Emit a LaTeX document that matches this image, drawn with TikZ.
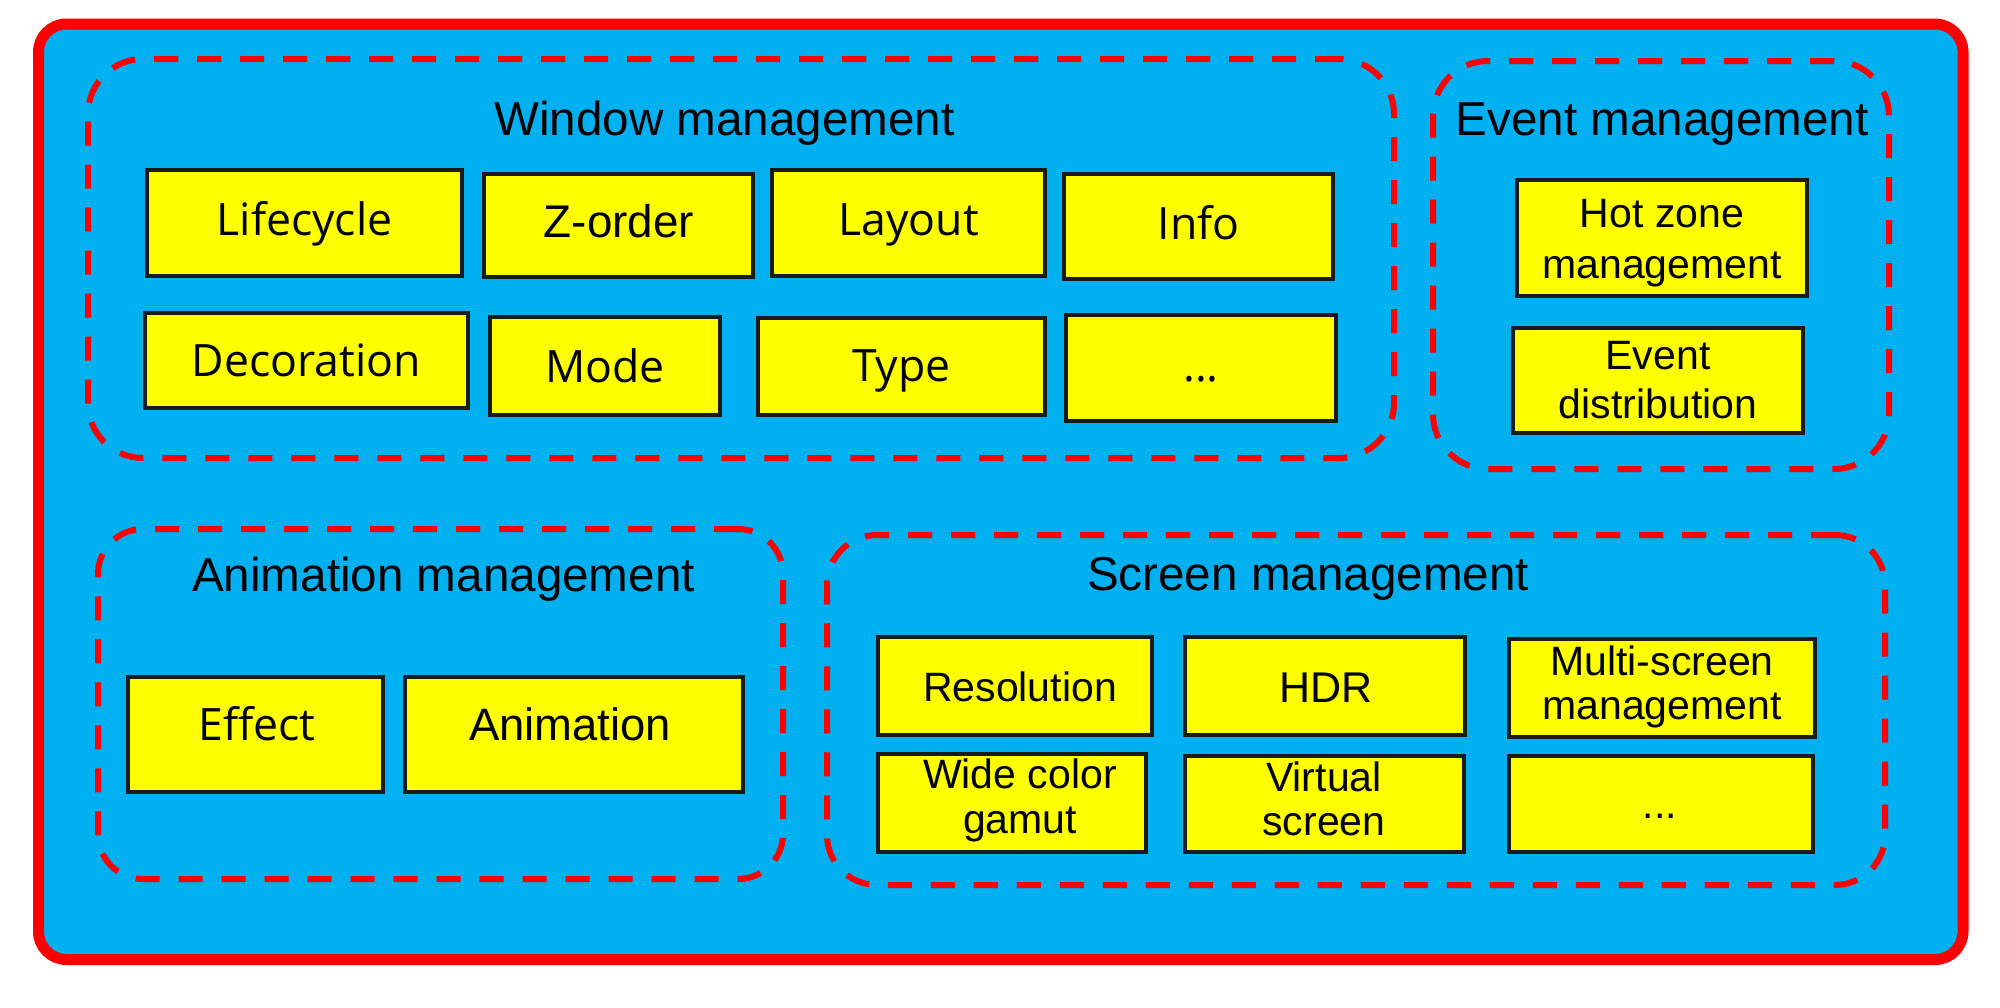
\documentclass[tikz,border=0pt]{standalone}
\usepackage{fontspec}
\setmainfont{Liberation Sans}
\newfontfamily\yafont{Open Sans}
\definecolor{bgblue}{HTML}{00B0F0}
\definecolor{dashred}{HTML}{FF0000}
\definecolor{boxyellow}{HTML}{FFFF00}
\definecolor{boxline}{HTML}{1A1A1A}
\newcommand{\twolines}[2]{\begin{tabular}[t]{@{}c@{}}#1\\#2\end{tabular}}
\begin{document}
\begin{tikzpicture}[x=0.5pt,y=-0.5pt,
  outerbox/.style={draw=red, line width=5.5pt, fill=bgblue, rounded corners=14pt, inner sep=0pt},
  group/.style={draw=dashred, line width=3pt, dash pattern=on 12pt off 9.5pt, inner sep=0pt},
  ybox/.style={draw=boxline, fill=boxyellow, line width=1.6pt, inner sep=0pt},
  ttl/.style={anchor=base, inner sep=0pt, font=\fontsize{23.8}{28}\selectfont},
  lblA/.style={anchor=base, inner sep=0pt, font=\fontsize{20.5}{25.5}\selectfont},
  lblY/.style={anchor=base, inner sep=0pt, font=\yafont\fontsize{22.3}{27}\selectfont}]
\useasboundingbox (0,0) rectangle (2000,1007);

% outer frame
\node[outerbox, minimum width=962.25pt, minimum height=467.75pt] (frame) at (1000.75,491.75) {};

% groups
\node[group, rounded corners=27.5pt, minimum width=653pt, minimum height=199.5pt] (win) at (741,258.5) {};
\node[group, rounded corners=27.5pt, minimum width=228pt, minimum height=204pt] (evt) at (1661,265) {};
\node[group, rounded corners=22.5pt, minimum width=342.5pt, minimum height=175pt] (ani) at (440.5,704) {};
\node[group, rounded corners=25pt, minimum width=529pt, minimum height=175pt] (scr) at (1356,710) {};

% titles
\node[ttl] (win-t) at (724.5,135) {Window management};
\node[ttl] (evt-t) at (1662,135) {Event management};
\node[ttl] (ani-t) at (443.5,591) {Animation management};
\node[ttl] (scr-t) at (1308,590) {Screen management};

% window management boxes
\node[ybox, minimum width=157.5pt, minimum height=53pt] (lifecycle) at (304.5,223) {};
\node[ybox, minimum width=134.5pt, minimum height=51.5pt] (zorder) at (618.5,225.5) {};
\node[ybox, minimum width=136.5pt, minimum height=53pt] (layout) at (908.5,223) {};
\node[ybox, minimum width=134.5pt, minimum height=52.5pt] (info) at (1198.5,226.5) {};
\node[ybox, minimum width=161.5pt, minimum height=47.5pt] (decoration) at (306.5,360.5) {};
\node[ybox, minimum width=115pt, minimum height=49pt] (mode) at (605,366) {};
\node[ybox, minimum width=143.5pt, minimum height=48.5pt] (type) at (901.5,366.5) {};
\node[ybox, minimum width=135pt, minimum height=53pt] (wmore) at (1201,368) {};

\node[lblY] (lifecycle-l) at (304.5,235) {Lifecycle};
\node[lblA, font=\fontsize{22.9}{27}\selectfont] (zorder-l) at (619,237) {Z-order};
\node[lblY] (layout-l) at (908.5,235) {Layout};
\node[lblY] (info-l) at (1198.5,239) {Info};
\node[lblY] (decoration-l) at (306.5,376) {Decoration};
\node[lblY] (mode-l) at (605,382) {Mode};
\node[lblY] (type-l) at (901.5,381) {Type};
\node[lblY] (wmore-l) at (1201,381) {...};

% event management boxes
\node[ybox, minimum width=145pt, minimum height=58pt] (hotzone) at (1662,238) {};
\node[ybox, minimum width=145pt, minimum height=52.5pt] (evdist) at (1658,380.5) {};
\node[lblA] (hotzone-l) at (1662,227) {\twolines{Hot zone}{management}};
\node[lblA, font=\fontsize{20.5}{24.5}\selectfont] (evdist-l) at (1658,369) {\twolines{Event}{distribution}};

% animation management boxes
\node[ybox, minimum width=127.5pt, minimum height=57.5pt] (effect) at (255.5,734.5) {};
\node[ybox, minimum width=169pt, minimum height=57.5pt] (animation) at (574,734.5) {};
\node[lblY] (effect-l) at (257,740) {Effect};
\node[lblA, font=\fontsize{22.7}{27}\selectfont] (animation-l) at (570,740) {Animation};

% screen management boxes
\node[ybox, minimum width=137pt, minimum height=49pt] (resolution) at (1015,686) {};
\node[ybox, minimum width=140pt, minimum height=49pt] (hdr) at (1325,686) {};
\node[ybox, minimum width=153pt, minimum height=49pt] (multi) at (1662,688) {};
\node[ybox, minimum width=134pt, minimum height=49pt] (wide) at (1012,803) {};
\node[ybox, minimum width=139.5pt, minimum height=48pt] (virtual) at (1324.5,804) {};
\node[ybox, minimum width=152pt, minimum height=48pt] (smore) at (1661,804) {};

\node[lblA] (resolution-l) at (1020,701) {Resolution};
\node[lblA, font=\fontsize{21.5}{26}\selectfont] (hdr-l) at (1326,702) {HDR};
\node[lblA, font=\fontsize{20.5}{22}\selectfont] (multi-l) at (1662,675) {\twolines{Multi-screen}{management}};
\node[lblA, font=\fontsize{20.5}{22.5}\selectfont] (wide-l) at (1020,788) {\twolines{Wide color}{gamut}};
\node[lblA, font=\fontsize{20.5}{22}\selectfont] (virtual-l) at (1324,791) {\twolines{Virtual}{screen}};
\node[lblA] (smore-l) at (1660,818) {...};
\end{tikzpicture}
\end{document}
